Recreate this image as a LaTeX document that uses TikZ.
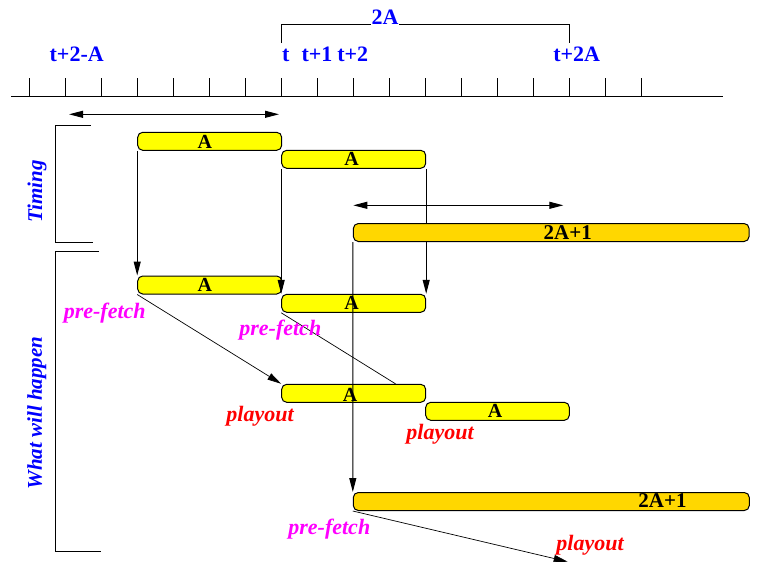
\documentclass[tikz,border=0pt]{standalone}
\usepackage{fontspec}
\setmainfont{Liberation Serif}
\usetikzlibrary{arrows.meta,backgrounds}
\definecolor{barY}{RGB}{255,255,0}
\definecolor{barG}{RGB}{255,215,0}
\definecolor{lblB}{RGB}{0,0,255}
\definecolor{lblM}{RGB}{255,0,255}
\definecolor{lblR}{RGB}{255,0,0}
\tikzset{
  toplbl/.style={font=\fontsize{22}{26}\selectfont\bfseries, text=lblB, inner sep=0pt},
  boxlbl/.style={font=\fontsize{20}{24}\selectfont\bfseries, inner sep=0pt},
  evt/.style={font=\fontsize{22}{26}\selectfont\bfseries\itshape, inner sep=0pt},
  side/.style={font=\fontsize{21}{25}\selectfont\bfseries\itshape, text=lblB, rotate=90, inner sep=0pt},
  bar/.style={draw, rounded corners=5pt, line width=1pt, minimum height=18pt, inner sep=0pt, fill=barY},
  gbar/.style={bar, fill=barG},
  conn/.style={line width=1pt},
  thin conn/.style={line width=0.7pt},
  >={Triangle[length=14pt,width=7pt]}
}
\begin{document}
\begin{tikzpicture}[x=1pt,y=-1pt]
\useasboundingbox (0,0) rectangle (770,579);
% time axis
\draw[conn] (11,96.5) -- (723,96.5);
\foreach \k in {0,...,17} \draw[conn] (29.7+36*\k,78) -- ++(0,18.5);
% 2A bracket
\draw[conn] (281.3,43) -- (281.3,24) -- (569.3,24) -- (569.3,43);
\node[toplbl, fill=white, inner sep=1pt] (l2a) at (385,17.5) {2A};
% axis labels
\node[toplbl, anchor=base] (lt2a) at (76.7,61.5) {t+2-A};
\node[toplbl, anchor=base] (lt) at (285.7,61.5) {t};
\node[toplbl, anchor=base] (lt1) at (317,61.5) {t+1};
\node[toplbl, anchor=base] (lt2) at (352.7,61.5) {t+2};
\node[toplbl, anchor=base] (lt2A) at (576.7,61.5) {t+2A};
% top double arrow
\coordinate (da1) at (69,114.3);
\coordinate (da2) at (279,114.3);
\draw[conn,<->] (da1) -- (da2);
% side brackets and labels
\draw[conn] (90.7,125.3) -- (55.3,125.3) -- (55.3,242.3) -- (92.7,242.3);
\draw[conn] (99,251.3) -- (55,251.3) -- (55,551.3) -- (100.7,551.3);
\node[side] (timing) at (37,191.3) {Timing};
\node[side] (happen) at (36.7,413) {What will happen};
% timing bars
\node[bar, minimum width=144pt] (box1) at (209.7,141.3) {};
\node[boxlbl] (a1) at (204.8,141.7) {A};
\node[bar, minimum width=144pt] (box2) at (353.7,159.3) {};
\node[boxlbl] (a2) at (351.7,159.3) {A};
\node[gbar, minimum width=395.7pt] (bigT) at (551.2,232.5) {};
\node[boxlbl, font=\fontsize{21}{25}\selectfont\bfseries] (aT) at (567.7,232.2) {2A+1};
% timing double arrow
\coordinate (db1) at (353.3,205.3);
\coordinate (db2) at (563.3,205.3);
\draw[conn,<->] (db1) -- (db2);
% what will happen bars
\node[bar, minimum width=144pt] (box3) at (209.7,285) {};
\node[boxlbl] (a3) at (204.8,285) {A};
\node[bar, minimum width=144pt] (box4) at (353.7,303.3) {};
\node[boxlbl] (a4) at (351.7,303.3) {A};
\node[bar, minimum width=144pt] (box5) at (353.7,393.3) {};
\node[boxlbl] (a5) at (350,395) {A};
\node[bar, minimum width=143.6pt] (box6) at (497.5,411.3) {};
\node[boxlbl] (a6) at (495,410.8) {A};
\node[gbar, minimum width=396pt] (bigH) at (551.3,501.5) {};
\node[boxlbl, font=\fontsize{21}{25}\selectfont\bfseries] (aH) at (662.5,500.8) {2A+1};
% vertical connectors
\draw[conn,->] (box1.south west) -- (box3.north west);
\draw[conn,->] (box2.south west) -- (box4.north west);
\begin{scope}[on background layer]
\draw[conn,->] (box2.south east) -- (box4.north east);
\end{scope}
\draw[conn,->] (bigT.south west) -- (bigH.north west);
% diagonal connectors
\draw[thin conn,->] (box3.south west) -- (box5.north west);
\draw[thin conn] (box4.south west) -- ([xshift=114.3pt]box5.north west);
\coordinate (p3end) at (567.7,561.7);
\draw[thin conn,->] (bigH.south west) -- (p3end);
% event labels
\node[evt, text=lblM] (pf1) at (104.7,313.3) {pre-fetch};
\node[evt, text=lblM] (pf2) at (280.3,330) {pre-fetch};
\node[evt, text=lblM] (pf3) at (329.3,529.2) {pre-fetch};
\node[evt, text=lblR] (po1) at (260,416.7) {playout};
\node[evt, text=lblR] (po2) at (440,434.2) {playout};
\node[evt, text=lblR] (po3) at (590,545) {playout};
\end{tikzpicture}
\end{document}
